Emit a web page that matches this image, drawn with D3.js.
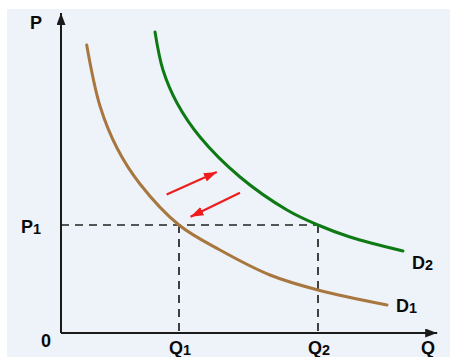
<!DOCTYPE html>
<html>
<head>
<meta charset="utf-8">
<script src="https://cdn.jsdelivr.net/npm/d3@7"></script>
<style>
  body { margin: 0; background: #ffffff; }
  svg { display: block; }
  text { font-family: "Liberation Sans", Arial, sans-serif; font-weight: bold; fill: #0a0a0a; }
</style>
</head>
<body>
<svg id="chart" width="450" height="357"></svg>
<script>
"use strict";

// points, in Q / P units (0..100)
var d1Q = [6.76, 10.26, 14.74, 20.79, 31.05, 41.84, 55.0, 67.63, 85.79];
var d1P = [90, 70.94, 57.81, 46.56, 33.75, 25.94, 18.13, 13.44, 8.75];
var d2Q = [24.74, 26.84, 30.53, 36.58, 47.11, 59.47, 67.63, 76.05, 90.0];
var d2P = [94.06, 82.19, 71.88, 61.25, 48.75, 38.44, 33.75, 30.0, 25.63];
var q1 = 31.05, q2 = 67.63, p1 = 33.75;
// shift arrows: [q0, p0, q1, p1]
var arrows = [[27.8, 43.3, 41.0, 50.3], [47.1, 43.8, 34.1, 36.3]];

var svg = d3.select("#chart");
var x = d3.scaleLinear().domain([0, 100]).range([61, 441]),
    y = d3.scaleLinear().domain([0, 100]).range([333, 13]);

// backdrop
svg.append("rect").attr("x", 7).attr("y", 9).attr("width", 443).attr("height", 348)
  .attr("fill", "#eef2f9");

var defs = svg.append("defs");
function marker(id, color, len, wid) {
  defs.append("marker").attr("id", id)
    .attr("viewBox", "0 0 " + len + " " + wid)
    .attr("refX", len).attr("refY", wid / 2)
    .attr("markerUnits", "userSpaceOnUse")
    .attr("markerWidth", len).attr("markerHeight", wid)
    .attr("orient", "auto")
    .append("path").attr("d", "M0,0L" + len + "," + wid / 2 + "L0," + wid + "Z")
    .attr("fill", color);
}
marker("axhead", "#1a1a1a", 12, 9);
marker("redhead", "#ee1c1c", 13, 9);

// dashed guides
var dash = svg.append("g").attr("stroke", "#222").attr("stroke-width", 1.7)
  .attr("stroke-dasharray", "8,6").attr("fill", "none");
dash.append("line").attr("x1", x(0)).attr("x2", x(q2)).attr("y1", y(p1)).attr("y2", y(p1));
dash.append("line").attr("x1", x(q1)).attr("x2", x(q1)).attr("y1", y(p1)).attr("y2", y(0));
dash.append("line").attr("x1", x(q2)).attr("x2", x(q2)).attr("y1", y(p1)).attr("y2", y(0));

// axes
svg.append("line").attr("x1", x(0)).attr("y1", y(0)).attr("x2", x(0)).attr("y2", y(100))
  .attr("stroke", "#1a1a1a").attr("stroke-width", 2).attr("marker-end", "url(#axhead)");
svg.append("line").attr("x1", x(0)).attr("y1", y(0)).attr("x2", x(99)).attr("y2", y(0))
  .attr("stroke", "#1a1a1a").attr("stroke-width", 2).attr("marker-end", "url(#axhead)");

// demand curves
var line = d3.line().x(d => x(d[0])).y(d => y(d[1])).curve(d3.curveCatmullRom.alpha(0.5));
svg.append("path").datum(d3.zip(d1Q, d1P)).attr("d", line)
  .attr("fill", "none").attr("stroke", "#a8773f").attr("stroke-width", 3).attr("stroke-linecap", "round");
svg.append("path").datum(d3.zip(d2Q, d2P)).attr("d", line)
  .attr("fill", "none").attr("stroke", "#0d7a14").attr("stroke-width", 3).attr("stroke-linecap", "round");

// red arrows
svg.selectAll(".shift").data(arrows).enter().append("line")
  .attr("x1", d => x(d[0])).attr("y1", d => y(d[1]))
  .attr("x2", d => x(d[2])).attr("y2", d => y(d[3]))
  .attr("stroke", "#ee1c1c").attr("stroke-width", 2.2)
  .attr("marker-end", "url(#redhead)");

// labels
function label(tx, ty, main, sub, size) {
  var t = svg.append("text").attr("x", tx).attr("y", ty).style("font-size", size + "px");
  t.append("tspan").text(main);
  if (sub) t.append("tspan").attr("dy", 1).style("font-size", (size * 0.8) + "px").text(sub);
}
label(30, 29, "P", null, 18);
label(21, 233, "P", "1", 18);
label(41, 347, "0", null, 18);
label(169, 354, "Q", "1", 18);
label(308, 354, "Q", "2", 18);
label(421, 354, "Q", null, 18);
label(412, 269, "D", "2", 18);
label(396, 312, "D", "1", 18);
</script>
</body>
</html>
